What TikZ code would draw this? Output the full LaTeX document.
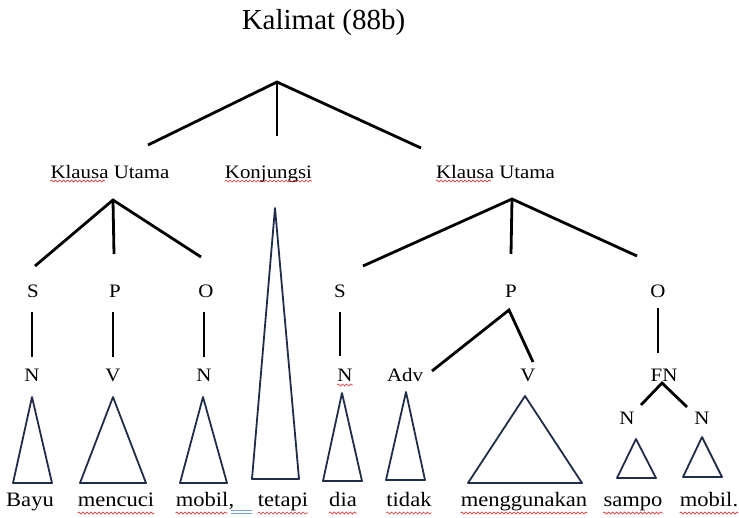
\documentclass[tikz,border=0pt]{standalone}
\usepackage{fontspec}
\setmainfont{Liberation Serif}
\newfontfamily\treefont[FakeStretch=1.1]{Liberation Serif}
\usetikzlibrary{decorations.pathmorphing}
\definecolor{trinavy}{HTML}{1F2D4A}
\definecolor{spellred}{HTML}{E0393B}
\definecolor{gramblue}{HTML}{6FA0D8}
\tikzset{
  branch/.style = {line width=2.8pt, black},
  tri/.style = {line width=1.8pt, trinavy, line join=round},
  lbl/.style = {font=\treefont\fontsize{19}{20}\selectfont, inner sep=0pt, anchor=base},
  word/.style = {font=\treefont\fontsize{20.5}{22}\selectfont, inner sep=0pt, anchor=base},
  squiggle/.style = {
    spellred, line width=0.7pt,
    decoration = {snake, segment length=4pt, amplitude=1pt},
    decorate
  }
}

\begin{document}
\begin{tikzpicture}[x=1pt, y=-1pt]
  \useasboundingbox (0,0) rectangle (739,517);

  %% Title
  \node[anchor=base, inner sep=0pt, font=\fontsize{29}{30}\selectfont] (kalimat) at (323.5,29.5) {Kalimat (88b)};

  % Sentence level
  \coordinate (kal-v) at (277,82);
  \coordinate (kal-l) at (148,145);
  \coordinate (kal-m) at (277,136);
  \coordinate (kal-r) at (421,148);
  \draw[branch] (kal-l) -- (kal-v) -- (kal-r);
  \draw[branch] (kal-v) -- (kal-m);

  \node[lbl] (ku-l) at (110,178) {Klausa Utama};
  \node[lbl] (konj) at (268.5,178) {Konjungsi};
  \node[lbl] (ku-r) at (495.5,178) {Klausa Utama};

  %% Klausa Utama | left
  \coordinate (ku-l-v) at (113,200);
  \coordinate (ku-l-s) at (35,266);
  \coordinate (ku-l-p) at (114,254);
  \coordinate (ku-l-o) at (201,257);
  \draw[branch] (ku-l-s) -- (ku-l-v) -- (ku-l-o);
  \draw[branch] (ku-l-v) -- (ku-l-p);

  \node[lbl] (s-l) at (33,297) {S};
  \node[lbl] (p-l) at (115,297) {P};
  \node[lbl] (o-l) at (206,297) {O};

  \node[lbl] (n-bayu) at (32,381) {N};
  \node[lbl] (v-cuci) at (113,381) {V};
  \node[lbl] (n-mobil) at (204,381) {N};

  \draw[branch, shorten <=15pt, shorten >=11pt] (n-bayu.north |- s-l.south) -- (n-bayu.north);
  \draw[branch, shorten <=15pt, shorten >=11pt] (v-cuci.north |- p-l.south) -- (v-cuci.north);
  \draw[branch, shorten <=15pt, shorten >=11pt] (n-mobil.north |- o-l.south) -- (n-mobil.north);

  %% Klausa Utama | right
  \coordinate (ku-r-v) at (512,199);
  \coordinate (ku-r-s) at (363,266);
  \coordinate (ku-r-p) at (511,254);
  \coordinate (ku-r-o) at (637,256);
  \draw[branch] (ku-r-s) -- (ku-r-v) -- (ku-r-o);
  \draw[branch] (ku-r-v) -- (ku-r-p);

  \node[lbl] (s-r) at (340,297) {S};
  \node[lbl] (p-r) at (511,297) {P};
  \node[lbl] (o-r) at (658,297) {O};

  \node[lbl] (n-dia) at (345,381) {N};
  \node[lbl] (adv) at (405,381) {Adv};
  \node[lbl] (v-guna) at (528,381) {V};
  \node[lbl] (fn) at (664,381) {FN};

  \draw[branch, shorten <=15pt, shorten >=12pt] (s-r.south) -- (s-r.south |- n-dia.north);
  \draw[branch, shorten <=11pt, shorten >=15pt] (o-r.south) -- (o-r.south |- fn.north);

  % Predikat
  \coordinate (p-r-v) at (509,310);
  \coordinate (p-r-adv) at (432,371);
  \coordinate (p-r-v2) at (533,362);
  \draw[branch] (p-r-adv) -- (p-r-v) -- (p-r-v2);

  % Frasa nomina
  \coordinate (fn-v) at (662,383);
  \coordinate (fn-l) at (641,405);
  \coordinate (fn-r) at (687,407);
  \draw[branch] (fn-l) -- (fn-v) -- (fn-r);

  \node[lbl] (n-sampo) at (627,424) {N};
  \node[lbl] (n-mobil2) at (702,424) {N};

  %% Triangles
  \draw[tri] (32,397) -- (52,483) -- (13,483) -- cycle;
  \draw[tri] (113,397) -- (146,483) -- (80,483) -- cycle;
  \draw[tri] (203,397) -- (227,483) -- (180,483) -- cycle;
  \draw[tri] (275,208) -- (299,479) -- (252,479) -- cycle;
  \draw[tri] (342,393) -- (362,481) -- (323,481) -- cycle;
  \draw[tri] (406,392) -- (425,480) -- (386,480) -- cycle;
  \draw[tri] (525,396) -- (582,483) -- (468,483) -- cycle;
  \draw[tri] (636,439) -- (656,478) -- (617,478) -- cycle;
  \draw[tri] (702,437) -- (722,477) -- (683,477) -- cycle;

  %% Words
  \node[word] (w-bayu) at (30,506) {Bayu};
  \node[word] (w-cuci) at (116,506) {mencuci};
  \node[word] (w-mobil) at (205,506) {mobil,};
  \node[word] (w-tetapi) at (283,506) {tetapi};
  \node[word] (w-dia) at (343,506) {dia};
  \node[word] (w-tidak) at (409,506) {tidak};
  \node[word] (w-guna) at (524,506) {menggunakan};
  \node[word] (w-sampo) at (633,506) {sampo};
  \node[word] (w-mobil2) at (709,506) {mobil.};

  %% Spelling marks
  \draw[squiggle] ([yshift=-3pt]ku-l.base west) -- ++(55,0);
  \draw[squiggle] ([yshift=-3pt]konj.base west) -- ([yshift=-3pt]konj.base east);
  \draw[squiggle] ([yshift=-3pt]ku-r.base west) -- ++(55,0);
  \draw[squiggle] ([yshift=-4pt]n-dia.base west) -- ([yshift=-4pt]n-dia.base east);
  \foreach \w in {w-cuci, w-tetapi, w-dia, w-tidak, w-guna, w-sampo, w-mobil2}
    \draw[squiggle] ([yshift=-7pt]\w.base west) -- ([yshift=-7pt]\w.base east);
  \draw[squiggle] ([yshift=-7pt]w-mobil.base west) -- ++(52,0);
  \draw[gramblue, line width=0.6pt] (231,510) -- (252,510);
  \draw[gramblue, line width=0.6pt] (231,513) -- (252,513);

\end{tikzpicture}
\end{document}
